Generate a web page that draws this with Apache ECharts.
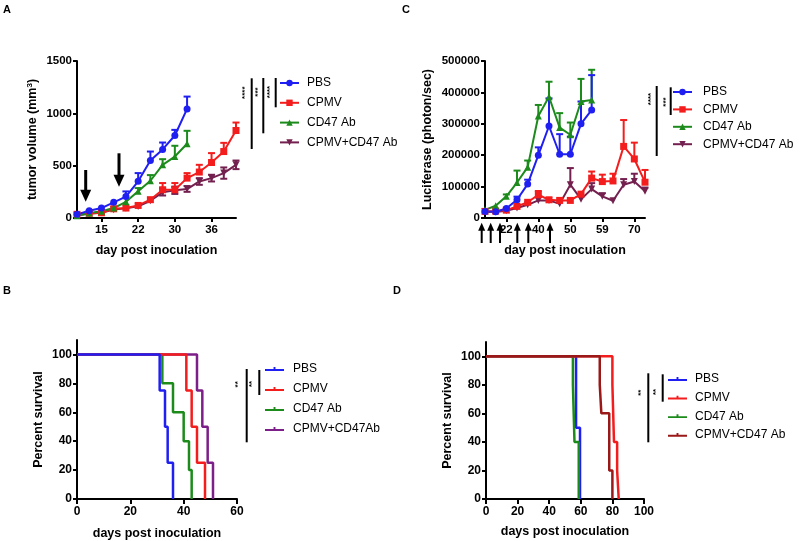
<!DOCTYPE html>
<html><head><meta charset="utf-8">
<script src="https://cdn.jsdelivr.net/npm/echarts@6/dist/echarts.min.js"></script>
<style>html,body{margin:0;padding:0;background:#fff}#c{width:800px;height:541px}</style>
</head><body><div id="c"></div>
<script>
// ---------- Panel A: tumor volume ----------
const aDays = ['11','13','15','18','20','22','25','27','30','32','34','36','38','40'];
const aTickLabels = ['15','22','30','36'];
const aPBS = [35,70,95,150,205,350,549,655,788,1042];
const aPBSErr = [null,null,null,null,254,429,635,721,842,1160];
const aCPMV = [35,45,50,88,95,120,175,270,270,381,439,530,635,836];
const aCPMVErr = [null,null,null,null,null,null,null,334,334,429,508,620,718,912];
const aCD47 = [22,48,64,95,155,256,356,508,587,709];
const aCD47Err = [null,null,null,null,null,286,410,562,690,833];
const aCombo = [25,41,50,80,92,111,165,245,264,276,349,381,429,508];
const aComboErrHi = [null,null,null,null,null,null,null,285,300,305,381,413,483,549];
const aComboErrLo = [null,null,null,null,null,null,null,215,230,250,317,349,375,467];

// ---------- Panel C: luciferase ----------
const cDays = ['14','18','22','28','33','40','43','47','50','54','57','59','63','66','70','73'];
const cTickLabels = ['22','40','50','59','70'];
const cPBS = [21000,20000,30000,58000,108000,200000,293000,203000,203000,300000,344000];
const cPBSErr = [null,null,null,68000,122000,225000,381000,267000,259000,371000,455000];
const cCPMV = [21000,22000,25000,37000,50000,74000,58000,56000,56000,76000,127000,116000,118000,228000,188000,114000];
const cCPMVErr = [null,null,null,null,null,86000,null,null,null,null,148000,138000,141000,312000,240000,153000];
const cCD47 = [26000,39000,69000,113000,162000,325000,386000,288000,265000,371000,376000];
const cCD47Err = [null,null,75000,151000,183000,360000,434000,334000,304000,443000,472000];
const cCombo = [20000,19000,23000,32000,42000,56000,56000,45000,106000,60000,92000,69000,55000,106000,116000,85000];
const cComboErr = [null,null,null,null,null,null,null,null,159000,null,111000,79000,null,124000,141000,97000];

// ---------- Panel B: survival ----------
const bPBS = [[0,100],[31,75],[33,50],[34,25],[36,0]];
const bCPMV = [[0,100],[41,75],[43,50],[45,25],[48,0]];
const bCD47 = [[0,100],[32,80],[36,60],[40,40],[42,20],[43,0]];
const bCombo = [[0,100],[45,75],[47,50],[49,25],[51,0]];

// ---------- Panel D: survival ----------
const dPBS = [[0,100],[57,50],[59.5,0]];
const dCPMV = [[0,100],[80,80],[81,40],[83,20],[84,0]];
const dCD47 = [[0,100],[55,80],[56,40],[58.7,0]];
const dCombo = [[0,100],[72,80],[73,60],[78,20],[80,0]];

const survTicks = [0,20,40,60,80,100];

const FONT = "'Liberation Sans', Arial, sans-serif";
const BLUE = '#1f1ff2', RED = '#f31d1d', GREEN = '#1c8b1c', MAROON = '#74204f', PURPLE = '#7c1f88', DARKRED = '#9a1818';
const SURV_ICON = 'path://M0,3 L9,3 L9,1 L11,1 L11,3 L20,3 L20,5 L0,5 Z';

const chart = echarts.init(document.getElementById('c'), null, {renderer:'canvas'});

const axLine = {show:true, lineStyle:{color:'#000', width:2}};
const axTick = {show:true, length:4, lineStyle:{color:'#000', width:2}};
const lbl = (fs) => ({color:'#000', fontWeight:'bold', fontSize:fs, fontFamily:FONT, formatter: v => String(v)});
const nameStyle = {color:'#000', fontWeight:'bold', fontSize:12.5, fontFamily:FONT};

function catX(grid, cats, labels, name, gap) {
  const f = (i, v) => labels.indexOf(v) >= 0;
  return {type:'category', gridIndex:grid, data:cats, boundaryGap:false,
    axisLine:axLine, axisTick:Object.assign({}, axTick, {interval:f}),
    axisLabel:Object.assign(lbl(11.5), {interval:f, margin:6}),
    name:name, nameLocation:'middle', nameGap:gap, nameTextStyle:nameStyle};
}
function valY(grid, min, max, interval, name, gap, fs, custom) {
  const o = {type:'value', gridIndex:grid, min:min, max:max, interval:interval,
    axisLine:axLine, axisTick:Object.assign({}, axTick), splitLine:{show:false},
    axisLabel:Object.assign(lbl(fs), {margin:5}),
    name:name, nameLocation:'middle', nameGap:gap, nameTextStyle:Object.assign({}, nameStyle)};
  if (custom) { o.axisLabel.customValues = custom; o.axisTick.customValues = custom; }
  return o;
}
function valX(grid, min, max, interval, name, gap) {
  return {type:'value', gridIndex:grid, min:min, max:max, interval:interval,
    axisLine:axLine, axisTick:Object.assign({}, axTick, {length:5}), splitLine:{show:false},
    axisLabel:Object.assign(lbl(12), {margin:7}),
    name:name, nameLocation:'middle', nameGap:gap, nameTextStyle:nameStyle};
}

function lineSeries(name, xi, yi, data, color, symbol, rot) {
  return {type:'line', name:name, xAxisIndex:xi, yAxisIndex:yi, data:data,
    symbol:symbol, symbolSize:7, symbolRotate:rot||0, showAllSymbol:true,
    lineStyle:{color:color, width:2}, itemStyle:{color:color}, z:3, animation:false};
}
function errSeries(xi, yi, vals, hi, lo, color) {
  const data = [];
  vals.forEach((v, i) => { if (hi[i] != null) data.push([i, v, hi[i], lo ? lo[i] : v]); });
  return {type:'custom', xAxisIndex:xi, yAxisIndex:yi, data:data, z:2, animation:false,
    renderItem: function (params, api) {
      const pHi = api.coord([api.value(0), api.value(2)]);
      const pLo = api.coord([api.value(0), api.value(3)]);
      const st = {stroke:color, lineWidth:2};
      const ch = [
        {type:'line', shape:{x1:pLo[0], y1:pLo[1], x2:pHi[0], y2:pHi[1]}, style:st},
        {type:'line', shape:{x1:pHi[0]-3.5, y1:pHi[1], x2:pHi[0]+3.5, y2:pHi[1]}, style:st}
      ];
      if (lo) ch.push({type:'line', shape:{x1:pLo[0]-3.5, y1:pLo[1], x2:pLo[0]+3.5, y2:pLo[1]}, style:st});
      return {type:'group', children:ch};
    }};
}
function survSeries(name, xi, yi, data, color) {
  return {type:'line', name:name, xAxisIndex:xi, yAxisIndex:yi, data:data, step:'end',
    symbol:'none', lineStyle:{color:color, width:2.5}, itemStyle:{color:color}, animation:false};
}

function legend(names, left, top, gap, pad, icon) {
  const l = {data:names.map(n => icon ? {name:n, icon:icon} : {name:n}),
    orient:'vertical', left:left, top:top, padding:0, itemWidth:19, itemHeight:icon ? 5 : 8, itemGap:gap,
    selectedMode:false, formatter: n => n.split('|')[1],
    textStyle:{color:'#000', fontSize:12, fontFamily:FONT, lineHeight:14, padding:[0,0,0,pad]}};
  return l;
}

// annotations
const g = [];
function vline(x, y1, y2, w) { g.push({type:'line', shape:{x1:x, y1:y1, x2:x, y2:y2}, style:{stroke:'#000', lineWidth:w||2}}); }
function stars(txt, x, y) { g.push({type:'text', x:x, y:y, rotation:Math.PI/2, style:{text:txt, font:'bold 8px ' + FONT, fill:'#000', align:'center', verticalAlign:'middle'}}); }
function arrowDown(x, y1, y2) {
  vline(x, y1, y2 - 10, 3);
  g.push({type:'polygon', shape:{points:[[x-5.5, y2-12],[x+5.5, y2-12],[x, y2]]}, style:{fill:'#000'}});
}
function arrowUp(x, y1, y2) {
  vline(x, y1 + 6, y2, 2);
  g.push({type:'polygon', shape:{points:[[x-3.5, y1+8],[x+3.5, y1+8],[x, y1]]}, style:{fill:'#000'}});
}
function letter(t, x, y) { g.push({type:'text', x:x, y:y, style:{text:t, font:'bold 11px ' + FONT, fill:'#000'}}); }

letter('A', 3, 4); letter('C', 402, 4); letter('B', 3, 285); letter('D', 393, 285);
arrowDown(85.7, 170, 201.7); arrowDown(119, 153.3, 186.7);
[481.7, 490.7, 500, 517.3, 528.3, 550].forEach(x => arrowUp(x, 222.7, 243));
// significance bars
vline(251.7, 78.3, 149); vline(263.3, 78, 133.3); vline(275.7, 78, 107.3);
stars('****', 244.3, 92.7); stars('***', 257.3, 92); stars('****', 270, 92);
vline(656.7, 86, 156); vline(670.7, 87.3, 115);
stars('****', 650.7, 99); stars('***', 665.7, 102);
vline(246.7, 369, 442.3); vline(259.3, 370, 395);
stars('**', 237.3, 384.3); stars('**', 251.7, 384);
vline(648.3, 373.3, 442.3); vline(662.7, 374.3, 401.7);
stars('**', 640.7, 392.7); stars('**', 656, 392);

const yNameA = valY(0, 0, 1500, 500, 'tumor volume (mm{s|3})', 37, 11.5);
yNameA.nameTextStyle.rich = {s:{fontSize:8, fontWeight:'bold', fontFamily:FONT, color:'#000', padding:[0,0,6,0]}};

const option = {
  backgroundColor:'#fff',
  textStyle:{fontFamily:FONT},
  animation:false,
  grid:[
    {left:77, top:61, width:159, height:157},
    {left:485, top:61, width:160, height:157},
    {left:77, top:340, width:160, height:159},
    {left:486, top:342, width:158, height:157}
  ],
  xAxis:[
    catX(0, aDays, aTickLabels, 'day post inoculation', 26),
    catX(1, cDays, cTickLabels, 'day post inoculation', 26),
    valX(2, 0, 60, 20, 'days post inoculation', 28),
    valX(3, 0, 100, 20, 'days post inoculation', 26.5)
  ],
  yAxis:[
    yNameA,
    valY(1, 0, 500000, 100000, 'Luciferase (photon/sec)', 51, 11.5),
    valY(2, 0, 110, 20, 'Percent survival', 32, 12, survTicks),
    valY(3, 0, 110, 20, 'Percent survival', 31.5, 12, survTicks)
  ],
  legend:[
    legend(['A|PBS','A|CPMV','A|CD47 Ab','A|CPMV+CD47 Ab'], 279, 76, 5.8, 3),
    legend(['C|PBS','C|CPMV','C|CD47 Ab','C|CPMV+CD47 Ab'], 672, 85, 3.4, 6),
    legend(['B|PBS','B|CPMV','B|CD47 Ab','B|CPMV+CD47Ab'], 265, 362, 6, 4, SURV_ICON),
    legend(['D|PBS','D|CPMV','D|CD47 Ab','D|CPMV+CD47 Ab'], 668, 372, 4.6, 3, SURV_ICON)
  ],
  series:[
    errSeries(0, 0, aCombo, aComboErrHi, aComboErrLo, MAROON),
    errSeries(0, 0, aCPMV, aCPMVErr, null, RED),
    errSeries(0, 0, aCD47, aCD47Err, null, GREEN),
    errSeries(0, 0, aPBS, aPBSErr, null, BLUE),
    lineSeries('A|CPMV+CD47 Ab', 0, 0, aCombo, MAROON, 'triangle', 180),
    lineSeries('A|CPMV', 0, 0, aCPMV, RED, 'rect'),
    lineSeries('A|CD47 Ab', 0, 0, aCD47, GREEN, 'triangle'),
    lineSeries('A|PBS', 0, 0, aPBS, BLUE, 'circle'),

    errSeries(1, 1, cCombo, cComboErr, null, MAROON),
    errSeries(1, 1, cCPMV, cCPMVErr, null, RED),
    errSeries(1, 1, cCD47, cCD47Err, null, GREEN),
    errSeries(1, 1, cPBS, cPBSErr, null, BLUE),
    lineSeries('C|CPMV+CD47 Ab', 1, 1, cCombo, MAROON, 'triangle', 180),
    lineSeries('C|CPMV', 1, 1, cCPMV, RED, 'rect'),
    lineSeries('C|CD47 Ab', 1, 1, cCD47, GREEN, 'triangle'),
    lineSeries('C|PBS', 1, 1, cPBS, BLUE, 'circle'),

    survSeries('B|CD47 Ab', 2, 2, bCD47, GREEN),
    survSeries('B|CPMV+CD47Ab', 2, 2, bCombo, PURPLE),
    survSeries('B|CPMV', 2, 2, bCPMV, RED),
    survSeries('B|PBS', 2, 2, bPBS, BLUE),

    survSeries('D|PBS', 3, 3, dPBS, BLUE),
    survSeries('D|CD47 Ab', 3, 3, dCD47, GREEN),
    survSeries('D|CPMV', 3, 3, dCPMV, RED),
    survSeries('D|CPMV+CD47 Ab', 3, 3, dCombo, DARKRED)
  ],
  graphic:g
};
chart.setOption(option);
</script></body></html>
